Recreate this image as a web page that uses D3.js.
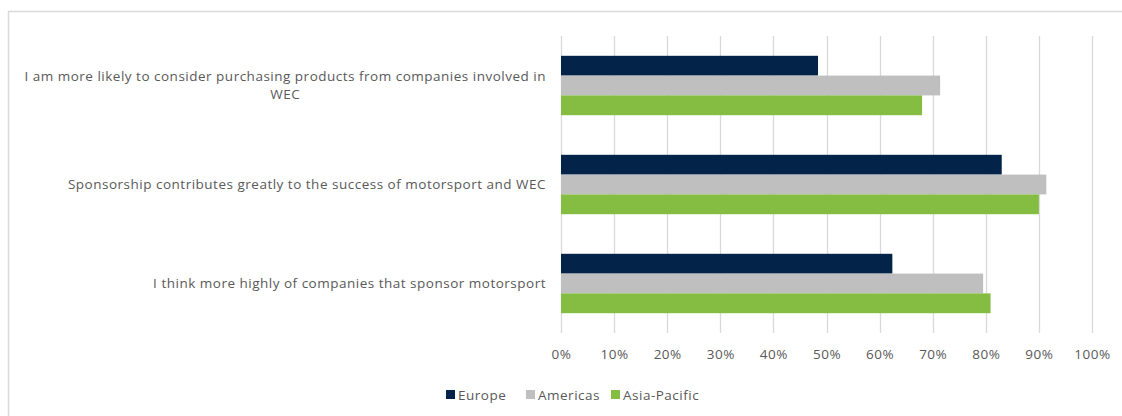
<!DOCTYPE html>
<html>
<head>
<meta charset="utf-8">
<script src="https://cdn.jsdelivr.net/npm/d3@7"></script>
<style>
  body { margin: 0; background: #fff; }
  text { font-family: "Open Sans", sans-serif; fill: #595959; letter-spacing: 0.5px; }
</style>
</head>
<body>
<div id="chart"></div>
<script>
// survey statements (top to bottom)
var categories = [
  ["I am more likely to consider purchasing products from companies involved in", "WEC"],
  ["Sponsorship contributes greatly to the success of motorsport and WEC"],
  ["I think more highly of companies that sponsor motorsport"]
];
var seriesNames = ["Europe", "Americas", "Asia-Pacific"];
var seriesColors = ["#042349", "#bfbfbf", "#84bd41"];
var europe = [0.484, 0.830, 0.624];
var americas = [0.714, 0.914, 0.795];
var asiaPacific = [0.680, 0.900, 0.809];
var xTicks = [0, 0.1, 0.2, 0.3, 0.4, 0.5, 0.6, 0.7, 0.8, 0.9, 1.0];

var width = 1122, height = 416;
var plot = {left: 561, right: 1092, top: 36, bottom: 333};
var fontSize = "13.5px";

var svg = d3.select("#chart").append("svg")
  .attr("width", width)
  .attr("height", height);

// outer chart border (runs off right/bottom edge)
svg.append("rect")
  .attr("x", 8.5).attr("y", 11.5)
  .attr("width", 1130).attr("height", 420)
  .attr("fill", "none")
  .attr("stroke", "#d9d9d9")
  .attr("stroke-width", 1.5);

var x = d3.scaleLinear().domain([0, 1]).range([plot.left, plot.right]);
var y = d3.scaleBand().domain(d3.range(categories.length))
  .range([plot.top, plot.bottom])
  .paddingInner(0.4).paddingOuter(0.2);
var ySub = d3.scaleBand().domain(d3.range(seriesNames.length))
  .range([0, y.bandwidth()]);

// gridlines
svg.append("g").selectAll("line").data(xTicks).enter().append("line")
  .attr("x1", d => Math.round(x(d)) + 0.5)
  .attr("x2", d => Math.round(x(d)) + 0.5)
  .attr("y1", plot.top).attr("y2", plot.bottom)
  .attr("stroke", "#d9d9d9")
  .attr("stroke-width", 1.3);

// x axis labels
var xAxis = svg.append("g")
  .attr("transform", "translate(0," + plot.bottom + ")")
  .call(d3.axisBottom(x).tickValues(xTicks).tickFormat(d3.format(".0%")).tickSize(0).tickPadding(16));
xAxis.select(".domain").remove();
xAxis.selectAll("text")
  .style("font-size", fontSize)
  .style("font-family", "'Open Sans', sans-serif")
  .attr("fill", "#595959");

// bars
var series = [europe, americas, asiaPacific];
series.forEach(function(vals, s) {
  svg.append("g").selectAll("rect").data(vals).enter().append("rect")
    .attr("x", x(0))
    .attr("y", (d, i) => y(i) + ySub(s))
    .attr("width", d => x(d) - x(0))
    .attr("height", ySub.bandwidth())
    .attr("fill", seriesColors[s]);
});

// category labels
var labelRight = 546;
var catG = svg.append("g");
categories.forEach(function(lines, i) {
  var cy = y(i) + y.bandwidth() / 2;
  var lineH = 18;
  var y0 = cy - (lines.length - 1) * lineH / 2 + 4.5;
  var first = catG.append("text")
    .attr("x", labelRight).attr("y", y0)
    .attr("text-anchor", "end")
    .style("font-size", fontSize)
    .text(lines[0]);
  var w = first.node().getComputedTextLength();
  for (var k = 1; k < lines.length; k++) {
    catG.append("text")
      .attr("x", labelRight - w / 2).attr("y", y0 + k * lineH)
      .attr("text-anchor", "middle")
      .style("font-size", fontSize)
      .text(lines[k]);
  }
});

// legend
var legendX = [446, 526, 611];
var leg = svg.append("g").attr("transform", "translate(0,395)");
seriesNames.forEach(function(name, s) {
  leg.append("rect")
    .attr("x", legendX[s]).attr("y", -5)
    .attr("width", 9).attr("height", 9)
    .attr("fill", seriesColors[s]);
  leg.append("text")
    .attr("x", legendX[s] + 12).attr("y", 5)
    .style("font-size", fontSize)
    .text(name);
});
</script>
</body>
</html>
